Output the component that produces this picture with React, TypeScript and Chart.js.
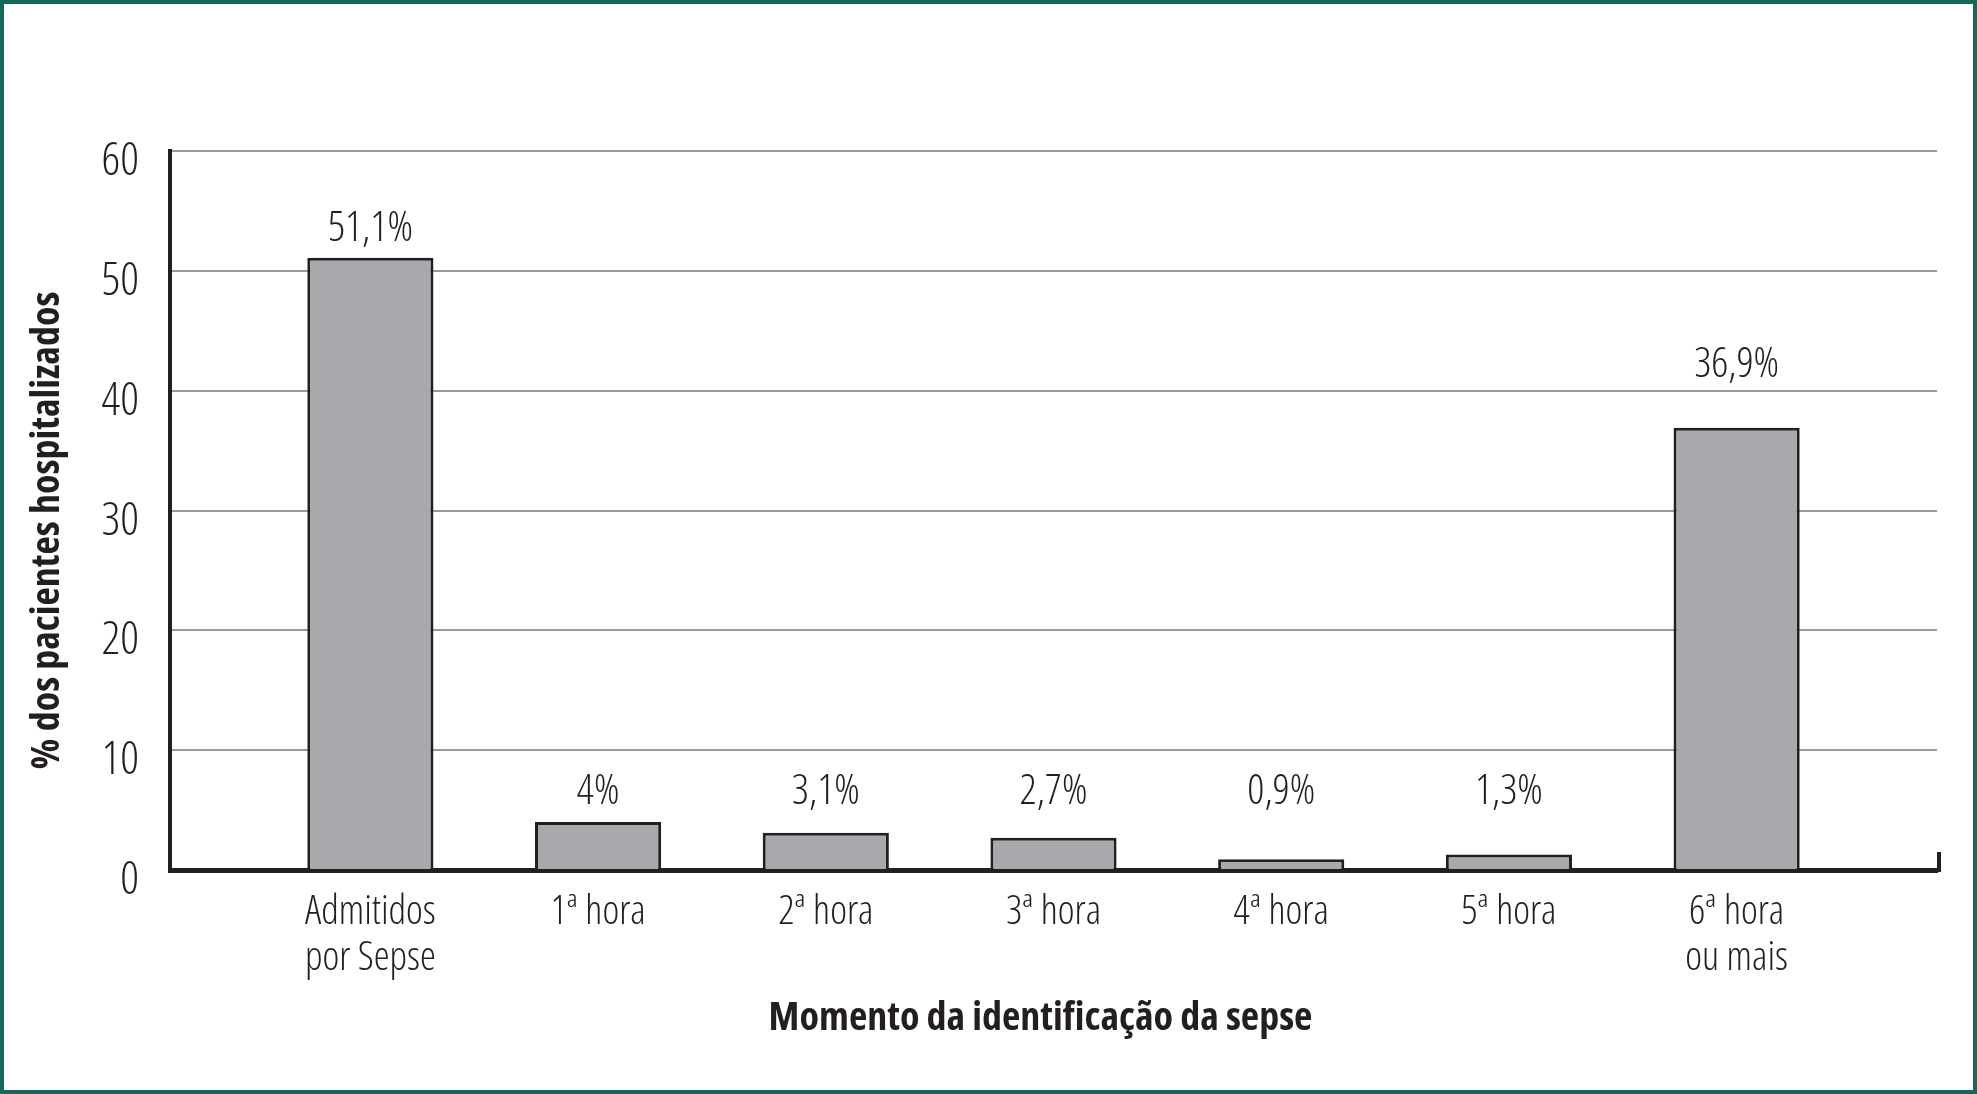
import React, { useEffect, useRef } from "react";
import { Chart, registerables } from "chart.js";

Chart.register(...registerables);

// ---- data ----
const categories: string[][] = [
  ["Admitidos", "por Sepse"],
  ["1ª hora"],
  ["2ª hora"],
  ["3ª hora"],
  ["4ª hora"],
  ["5ª hora"],
  ["6ª hora", "ou mais"],
];
const values: number[] = [51.1, 4, 3.1, 2.7, 0.9, 1.3, 36.9];
const valueLabels: string[] = ["51,1%", "4%", "3,1%", "2,7%", "0,9%", "1,3%", "36,9%"];
const valueLabelLevels: number[] = [53.5, 6.5, 6.5, 6.5, 6.5, 6.5, 42.1];
const yTicks: number[] = [0, 10, 20, 30, 40, 50, 60];
const yTitle = "% dos pacientes hospitalizados";
const xTitle = "Momento da identificação da sepse";

// ---- styles ----
const FONT = "'Open Sans', 'DejaVu Sans', sans-serif";
const LIGHT = "300 condensed"; // weight + stretch (goes into the font shorthand)
const BOLD = "bold condensed";
const INK = "#231f20";
const BAR_FILL = "#a7a9ac";
const GRID = "#9b9b9b";
const FRAME = "#13695a";

const extrasPlugin = {
  id: "extras",
  afterDatasetsDraw(chart: any) {
    const ctx = chart.ctx;
    const meta = chart.getDatasetMeta(0);
    const y = chart.scales.y;
    ctx.save();
    ctx.font = `${LIGHT} 42px ${FONT}`;
    ctx.fillStyle = INK;
    ctx.textAlign = "center";
    ctx.textBaseline = "middle";
    meta.data.forEach((bar: any, i: number) => {
      ctx.fillText(valueLabels[i], bar.x, y.getPixelForValue(valueLabelLevels[i]));
    });
    const { right, bottom, top, left } = chart.chartArea;
    // small closing tick at the right end of the x axis
    ctx.strokeStyle = INK;
    ctx.lineWidth = 4;
    ctx.beginPath();
    ctx.moveTo(right + 2, bottom - 18);
    ctx.lineTo(right + 2, bottom + 2);
    ctx.stroke();
    // axis titles
    ctx.font = `${BOLD} 40px ${FONT}`;
    ctx.fillText(xTitle, (left + right) / 2 - 13, bottom + 149);
    ctx.translate(44, (top + bottom) / 2 + 20);
    ctx.rotate(-Math.PI / 2);
    ctx.fillText(yTitle, 0, 0);
    ctx.restore();
  },
};

export default function App() {
  const ref = useRef<HTMLCanvasElement | null>(null);

  useEffect(() => {
    document.body.style.margin = "0";
    const canvas = ref.current;
    if (!canvas) return;
    const chart = new Chart(canvas, {
      type: "bar",
      data: {
        datasets: [
          {
            data: values.map((v, i) => ({ x: i + 1, y: v })),
            backgroundColor: BAR_FILL,
            borderColor: INK,
            borderWidth: 3,
            barPercentage: 0.554,
            categoryPercentage: 1,
          },
        ],
      },
      options: {
        animation: false,
        responsive: false,
        devicePixelRatio: 1,
        layout: { padding: { top: 147, right: 36, left: 0, bottom: 0 } },
        plugins: {
          legend: { display: false },
          tooltip: { enabled: false },
        },
        scales: {
          x: {
            type: "linear",
            offset: false,
            min: 0.12,
            max: 7.88,
            afterBuildTicks: (scale: any) => {
              scale.ticks = categories.map((_, i) => ({ value: i + 1 }));
            },
            afterFit: (scale: any) => {
              scale.height = 220;
            },
            grid: { display: false, drawTicks: false, offset: false },
            border: { display: true, color: INK, width: 5 },
            ticks: {
              autoSkip: false,
              maxRotation: 0,
              padding: 20,
              color: INK,
              font: { family: FONT, size: 40, weight: LIGHT, lineHeight: 1.15 },
              callback: (v: any) => categories[Math.round(Number(v)) - 1] ?? "",
            },
            title: { display: false },
          },
          y: {
            min: 0,
            max: 60,
            afterBuildTicks: (scale: any) => {
              scale.ticks = yTicks.map((v) => ({ value: v }));
            },
            afterFit: (scale: any) => {
              scale.width = 166;
            },
            grid: { color: GRID, lineWidth: 2, drawTicks: false },
            border: { display: true, color: INK, width: 4 },
            ticks: {
              padding: 31,
              labelOffset: 11,
              color: INK,
              font: { family: FONT, size: 46, weight: LIGHT },
              callback: (v: any) => String(v),
            },
            title: { display: false },
          },
        },
      },
      plugins: [extrasPlugin],
    } as any);
    return () => chart.destroy();
  }, []);

  return (
    <div
      style={{
        width: 1977,
        height: 1094,
        boxSizing: "border-box",
        border: `4px solid ${FRAME}`,
        background: "#fff",
        position: "relative",
        overflow: "hidden",
      }}
    >
      <canvas ref={ref} width={1969} height={1086} style={{ display: "block", width: 1969, height: 1086 }} />
    </div>
  );
}
